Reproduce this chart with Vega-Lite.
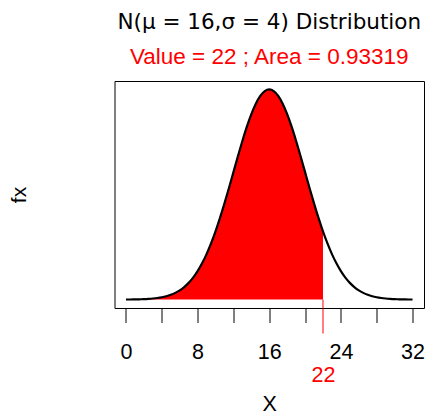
{
  "$schema": "https://vega.github.io/schema/vega-lite/v6.json",
  "autosize": "none",
  "width": 309.5,
  "height": 227,
  "padding": {"left": 114.5, "top": 81, "right": 11, "bottom": 109},
  "background": "white",
  "config": {
    "font": "Liberation Sans",
    "view": {"stroke": "black", "strokeWidth": 1}
  },
  "title": {
    "text": "N(μ = 16,σ = 4) Distribution",
    "subtitle": "Value = 22 ; Area = 0.93319",
    "anchor": "middle",
    "font": "DejaVu Sans",
    "fontSize": 21.5,
    "fontWeight": "normal",
    "color": "black",
    "subtitleFont": "Liberation Sans",
    "subtitleFontSize": 22.5,
    "subtitleColor": "red",
    "subtitlePadding": 12.5,
    "offset": 12.5
  },
  "data": {
    "values": [
      {"x": 0, "fx": 0.000033}, {"x": 0.5, "fx": 0.000055}, {"x": 1, "fx": 0.000088}, {"x": 1.5, "fx": 0.00014},
      {"x": 2, "fx": 0.000218}, {"x": 2.5, "fx": 0.000335}, {"x": 3, "fx": 0.000507}, {"x": 3.5, "fx": 0.000756},
      {"x": 4, "fx": 0.001108}, {"x": 4.5, "fx": 0.001599}, {"x": 5, "fx": 0.002273}, {"x": 5.5, "fx": 0.003181},
      {"x": 6, "fx": 0.004382}, {"x": 6.5, "fx": 0.005943}, {"x": 7, "fx": 0.007935}, {"x": 7.5, "fx": 0.01043},
      {"x": 8, "fx": 0.013498}, {"x": 8.5, "fx": 0.017196}, {"x": 9, "fx": 0.021569}, {"x": 9.5, "fx": 0.026634},
      {"x": 10, "fx": 0.032379}, {"x": 10.5, "fx": 0.038753}, {"x": 11, "fx": 0.045662}, {"x": 11.5, "fx": 0.05297},
      {"x": 12, "fx": 0.060493}, {"x": 12.5, "fx": 0.068015}, {"x": 13, "fx": 0.075284}, {"x": 13.5, "fx": 0.08204},
      {"x": 14, "fx": 0.088016}, {"x": 14.5, "fx": 0.092964}, {"x": 15, "fx": 0.096667}, {"x": 15.5, "fx": 0.09896},
      {"x": 16, "fx": 0.099736},
      {"x": 16.5, "fx": 0.09896}, {"x": 17, "fx": 0.096667}, {"x": 17.5, "fx": 0.092964}, {"x": 18, "fx": 0.088016},
      {"x": 18.5, "fx": 0.08204}, {"x": 19, "fx": 0.075284}, {"x": 19.5, "fx": 0.068015}, {"x": 20, "fx": 0.060493},
      {"x": 20.5, "fx": 0.05297}, {"x": 21, "fx": 0.045662}, {"x": 21.5, "fx": 0.038753}, {"x": 22, "fx": 0.032379},
      {"x": 22.5, "fx": 0.026634}, {"x": 23, "fx": 0.021569}, {"x": 23.5, "fx": 0.017196}, {"x": 24, "fx": 0.013498},
      {"x": 24.5, "fx": 0.01043}, {"x": 25, "fx": 0.007935}, {"x": 25.5, "fx": 0.005943}, {"x": 26, "fx": 0.004382},
      {"x": 26.5, "fx": 0.003181}, {"x": 27, "fx": 0.002273}, {"x": 27.5, "fx": 0.001599}, {"x": 28, "fx": 0.001108},
      {"x": 28.5, "fx": 0.000756}, {"x": 29, "fx": 0.000507}, {"x": 29.5, "fx": 0.000335}, {"x": 30, "fx": 0.000218},
      {"x": 30.5, "fx": 0.00014}, {"x": 31, "fx": 0.000088}, {"x": 31.5, "fx": 0.000055}, {"x": 32, "fx": 0.000033}
    ]
  },
  "resolve": {"axis": {"x": "independent"}},
  "layer": [
    {
      "transform": [{"filter": "datum.x <= 22"}],
      "mark": {"type": "area", "color": "red", "interpolate": "monotone", "clip": false},
      "encoding": {
        "x": {
          "field": "x", "type": "quantitative",
          "scale": {"domain": [-1.28, 33.28], "nice": false, "zero": false},
          "axis": {
            "orient": "bottom",
            "values": [0, 4, 8, 12, 16, 20, 24, 28, 32],
            "labelExpr": "datum.value % 8 === 0 ? datum.label : ''",
            "grid": false, "domain": false,
            "tickColor": "black", "tickSize": 14.5, "tickWidth": 1,
            "labelFont": "Liberation Sans", "labelFontSize": 21.5, "labelColor": "black",
            "labelPadding": 18.5, "labelFlush": false, "labelOverlap": false,
            "title": "X", "titleFont": "Liberation Sans", "titleFontSize": 21.5,
            "titleFontWeight": "normal", "titleColor": "black", "titlePadding": 31
          }
        },
        "y": {
          "field": "fx", "type": "quantitative",
          "scale": {"domain": [-0.00399, 0.10373], "nice": false, "zero": false},
          "axis": {
            "title": "fx", "labels": false, "ticks": false, "domain": false, "grid": false,
            "titleFont": "Liberation Sans", "titleFontSize": 21, "titleFontWeight": "normal",
            "titleColor": "black", "titlePadding": 85
          }
        },
        "y2": {"datum": 0}
      }
    },
    {
      "mark": {"type": "line", "color": "black", "strokeWidth": 2.2, "interpolate": "monotone"},
      "encoding": {
        "x": {"field": "x", "type": "quantitative", "axis": null},
        "y": {"field": "fx", "type": "quantitative"}
      }
    },
    {
      "data": {"values": [{"x": 22}]},
      "mark": {"type": "rule", "color": "red", "strokeWidth": 1},
      "encoding": {
        "x": {
          "field": "x", "type": "quantitative",
          "axis": {
            "orient": "bottom", "values": [22], "grid": false, "domain": false,
            "tickColor": "red", "tickSize": 25, "tickWidth": 1,
            "labelColor": "red", "labelFont": "Liberation Sans", "labelFontSize": 21.5,
            "labelPadding": 31, "labelFlush": false, "title": null
          }
        },
        "y": {"datum": 0},
        "y2": {"datum": -0.00399}
      }
    }
  ]
}
